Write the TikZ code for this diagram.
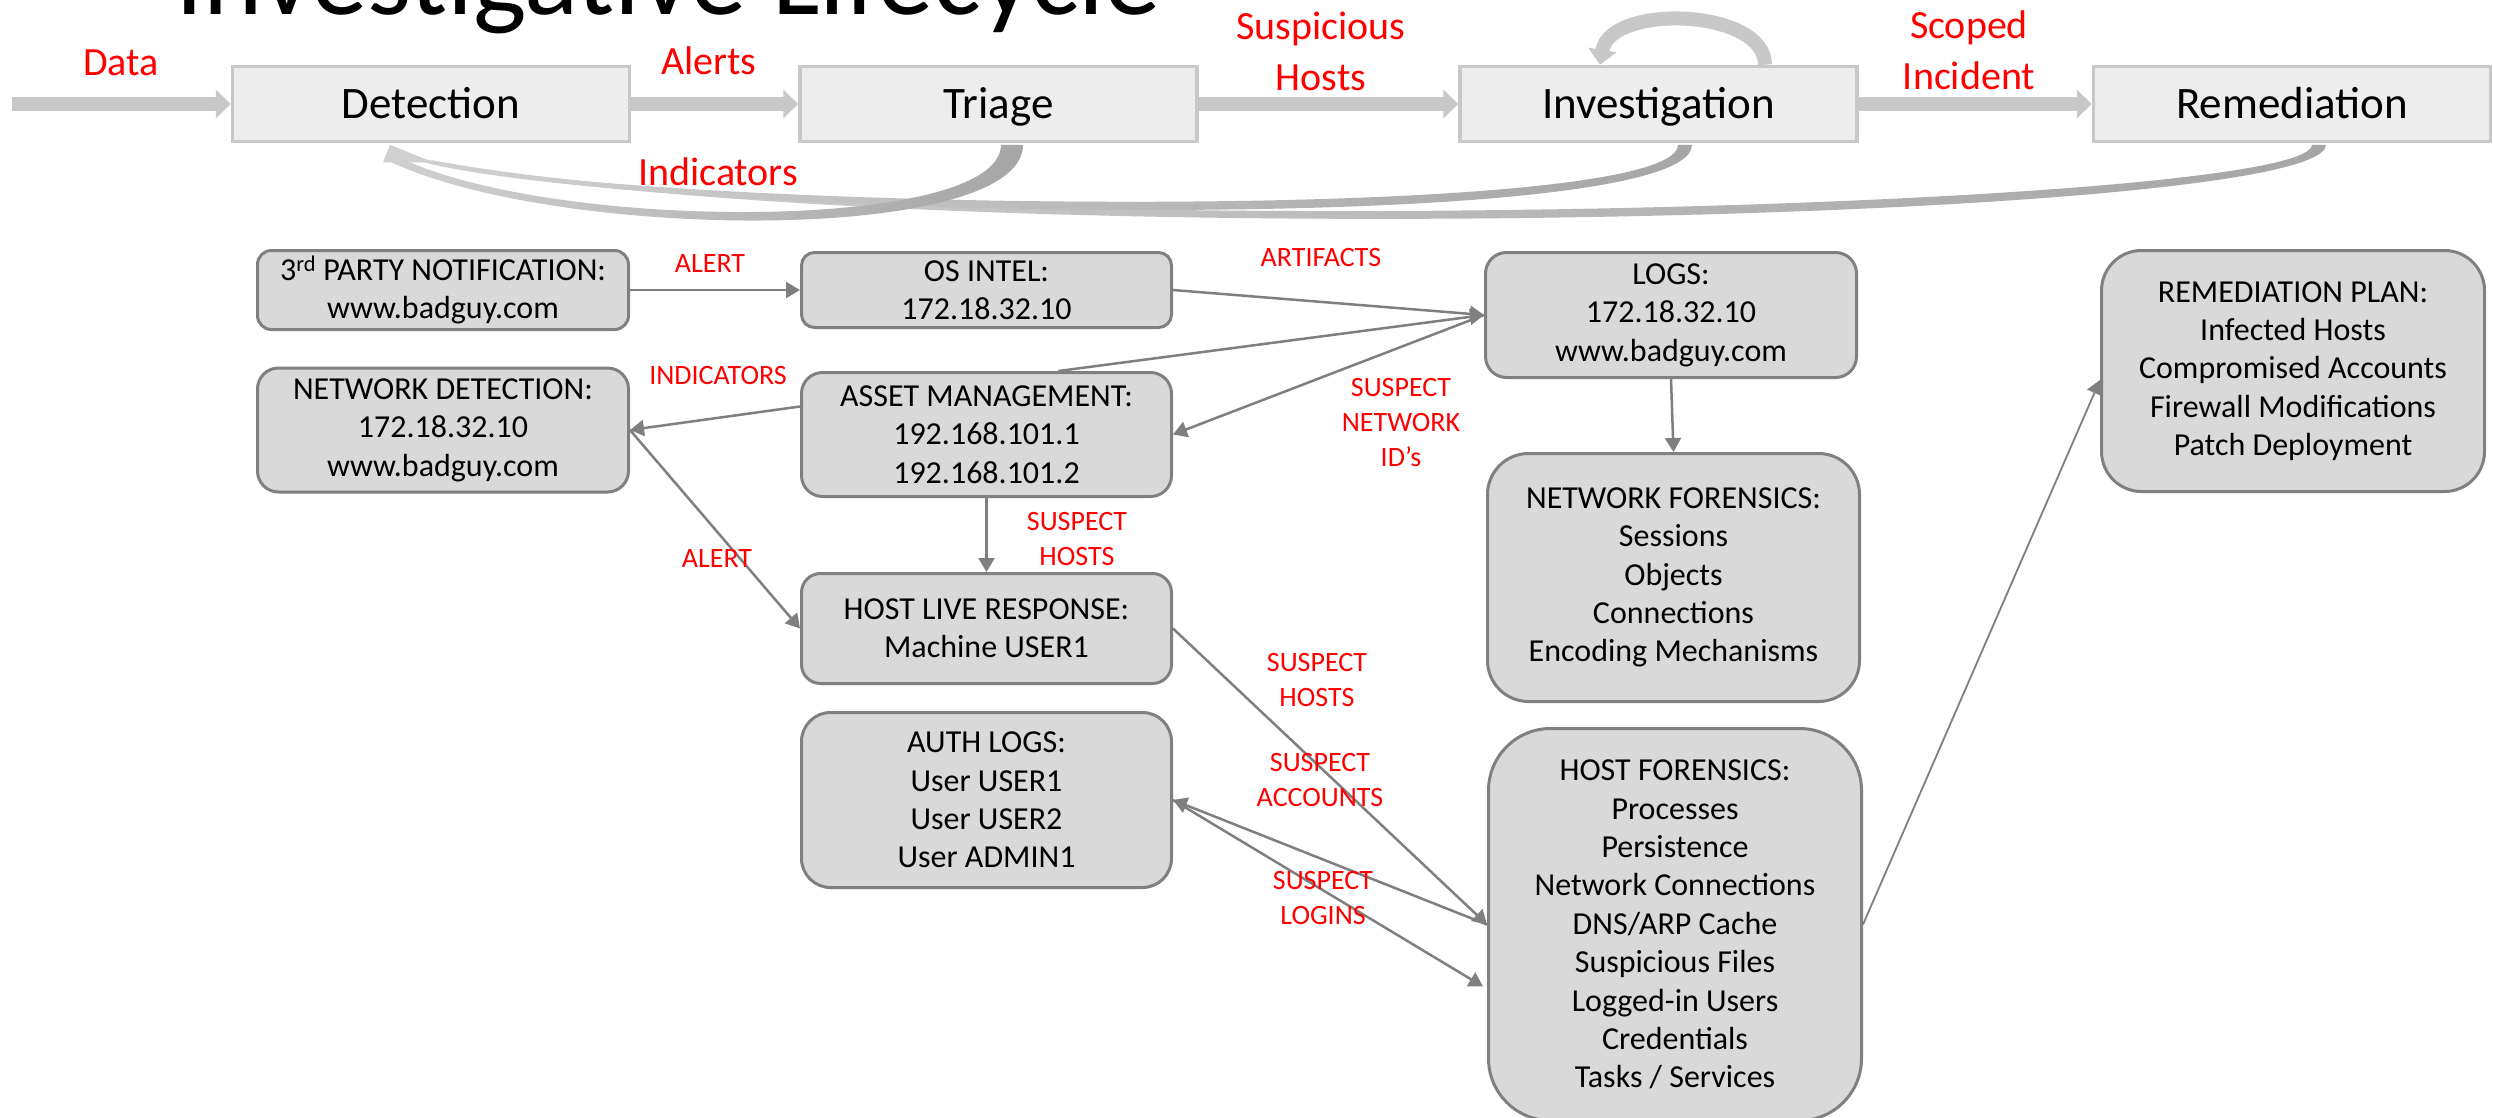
\documentclass[tikz,border=0pt]{standalone}
\usepackage{fontspec}
\setmainfont{Carlito}
\usetikzlibrary{arrows.meta,calc}
\definecolor{topfill}{HTML}{EDEDED}
\definecolor{topborder}{HTML}{C8C8C8}
\definecolor{bigarrowc}{HTML}{C8C8C8}
\definecolor{fbdark}{HTML}{A6A6A6}
\definecolor{fblight}{HTML}{D0D0D0}
\definecolor{boxfill}{HTML}{D9D9D9}
\definecolor{boxborder}{HTML}{808080}
\definecolor{conncol}{HTML}{7F7F7F}
\definecolor{labred}{HTML}{FF0000}
\begin{document}
\begin{tikzpicture}[x=1pt, y=-1pt,
  topbox/.style={draw=topborder, fill=topfill, line width=3.5pt, minimum width=397pt, minimum height=75pt, inner sep=0pt, font=\fontsize{45}{54}\selectfont, text height=29pt, text depth=0pt},
  bigarrow/.style={draw=bigarrowc, line width=14pt, -{Triangle[length=15pt,width=28pt]}},
  lowbox/.style={draw=boxborder, fill=boxfill, line width=3pt, align=center, inner sep=0pt, font=\fontsize{32}{38.4}\selectfont},
  conn/.style={draw=conncol, line width=2.5pt, -{Triangle[length=14pt,width=16pt]}},
  toplab/.style={text=labred, align=center, inner sep=0pt, font=\fontsize{40}{51}\selectfont},
  lab/.style={text=labred, align=center, inner sep=0pt, font=\fontsize{28}{35}\selectfont},
  fb/.style={left color=fblight, right color=fbdark, draw=none}]
\useasboundingbox (0,0) rectangle (2493,1117);
\fill[white] (0,0) rectangle (2493,1117);

% title
\node[anchor=base west, inner sep=0pt, font=\fontsize{113}{113}\selectfont] (title) at (175,14) {Investigative Lifecycle};

% top row
\node[topbox] (det) at (431,104) {Detection};
\node[topbox] (tri) at (998.5,104) {Triage};
\node[topbox] (inv) at (1658.5,104) {Investigation};
\node[topbox] (rem) at (2292,104) {Remediation};

\coordinate (datain) at (12,104);
\draw[bigarrow] (datain) -- (det.west);
\draw[bigarrow] (det.east) -- (tri.west);
\draw[bigarrow] (tri.east) -- (inv.west);
\draw[bigarrow] (inv.east) -- (rem.west);
\draw[bigarrow] ($(inv.north)+(106.5,0)$) .. controls ($(inv.north)+(106.5,-56.5)$) and ($(inv.north)+(-48.5,-61.5)$) .. ($(inv.north)+(-58.5,0)$);

% feedback ribbons
\shade[fb] ($(rem.south)+(20,1.5)$) .. controls ($(rem.south)+(20,66.5)$) and (900,247) .. ($(det.south)+(1,17)$)
  -- ($(det.south)+(-3,19.5)$) .. controls (900,254) and ($(rem.south)+(34,80.5)$) .. ($(rem.south)+(34,1.5)$) -- cycle;
\shade[fb] ($(inv.south)+(19.5,1.5)$) .. controls ($(inv.south)+(19.5,81.5)$) and (650,212) .. ($(det.south)+(-6,16)$)
  -- ($(det.south)+(-10,18.5)$) .. controls (650,219) and ($(inv.south)+(33.5,95.5)$) .. ($(inv.south)+(33.5,1.5)$) -- cycle;
\shade[fb] ($(tri.south)+(2.5,1.5)$) .. controls ($(tri.south)+(2.5,88.5)$) and (560,232) .. ($(det.south)+(-28,16)$)
  -- ($(det.south)+(-42,18)$) .. controls (560,242) and ($(tri.south)+(24.5,100.5)$) .. ($(tri.south)+(24.5,1.5)$) -- cycle;
\fill[fblight] ($(det.south)+(-41,1.5)$) -- ($(det.south)+(-48,19)$) -- ($(det.south)+(2,19)$) -- cycle;

% top labels
\node[toplab, anchor=base] (ldata) at (121,75) {Data};
\node[toplab, anchor=base] (lalerts) at (709,74) {Alerts};
\node[toplab, anchor=base] (lind) at (718,185) {Indicators};
\node[toplab] (lsus) at (1321,51) {Suspicious\\Hosts};
\node[toplab] (lscoped) at (1969,50) {Scoped\\Incident};

% lower boxes
\node[lowbox, minimum width=371pt, minimum height=79pt, rounded corners=14pt] (p3) at (443,290) {3\textsuperscript{rd} PARTY NOTIFICATION:\\www.badguy.com};
\node[lowbox, minimum width=370pt, minimum height=75pt, rounded corners=13pt] (osi) at (986.5,290) {OS INTEL:\\172.18.32.10};
\node[lowbox, minimum width=371pt, minimum height=124pt, rounded corners=21pt] (nd) at (443,430) {NETWORK DETECTION:\\172.18.32.10\\www.badguy.com};
\node[lowbox, minimum width=370pt, minimum height=124pt, rounded corners=21pt] (am) at (986.5,434.5) {ASSET MANAGEMENT:\\192.168.101.1\\192.168.101.2};
\node[lowbox, minimum width=370pt, minimum height=110pt, rounded corners=19pt] (hlr) at (986.5,628.5) {HOST LIVE RESPONSE:\\Machine USER1};
\node[lowbox, minimum width=370pt, minimum height=175pt, rounded corners=29pt] (auth) at (986.5,800) {AUTH LOGS:\\User USER1\\User USER2\\User ADMIN1};
\node[lowbox, minimum width=371pt, minimum height=125pt, rounded corners=21pt] (logs) at (1671,315) {LOGS:\\172.18.32.10\\www.badguy.com};
\node[lowbox, minimum width=372pt, minimum height=248pt, rounded corners=41pt] (nf) at (1673.5,577.5) {NETWORK FORENSICS:\\Sessions\\Objects\\Connections\\Encoding Mechanisms};
\node[lowbox, minimum width=373pt, minimum height=392pt, rounded corners=62pt] (hf) at (1675,924.5) {HOST FORENSICS:\\Processes\\Persistence\\Network Connections\\DNS/ARP Cache\\Suspicious Files\\Logged-in Users\\Credentials\\Tasks / Services};
\node[lowbox, minimum width=383pt, minimum height=241pt, rounded corners=40pt] (rp) at (2293,371) {REMEDIATION PLAN:\\Infected Hosts\\Compromised Accounts\\Firewall Modifications\\Patch Deployment};

% connectors
\draw[conn] (p3.east) -- (osi.west);
\draw[conn] (osi.east) -- (logs.west);
\draw[conn] ($(am.north)+(72,0)$) -- (logs.west);
\draw[conn] (logs.west) -- (am.east);
\draw[conn] ($(am.west)+(0,-28)$) -- (nd.east);
\draw[conn] (nd.east) -- (hlr.west);
\draw[conn] (am.south) -- (hlr.north);
\draw[conn] (logs.south) -- (nf.north);
\draw[conn] (hlr.east) -- (hf.west);
\draw[conn] (hf.west) -- (auth.east);
\draw[conn] (auth.east) -- ($(hf.west)+(-4,62)$);
\draw[conn, line width=1.8pt] (hf.east) -- ($(rp.west)+(0,9)$);

% lower labels
\node[lab] (l1) at (710,264) {ALERT};
\node[lab] (l2) at (1321,258) {ARTIFACTS};
\node[lab] (l3) at (718,376) {INDICATORS};
\node[lab] (l4) at (1401,423) {SUSPECT\\NETWORK\\ID’s};
\node[lab] (l5) at (1077,539) {SUSPECT\\HOSTS};
\node[lab] (l6) at (717,559) {ALERT};
\node[lab] (l7) at (1317,680) {SUSPECT\\HOSTS};
\node[lab] (l8) at (1320,780) {SUSPECT\\ACCOUNTS};
\node[lab] (l9) at (1323,898) {SUSPECT\\LOGINS};
\end{tikzpicture}
\end{document}
